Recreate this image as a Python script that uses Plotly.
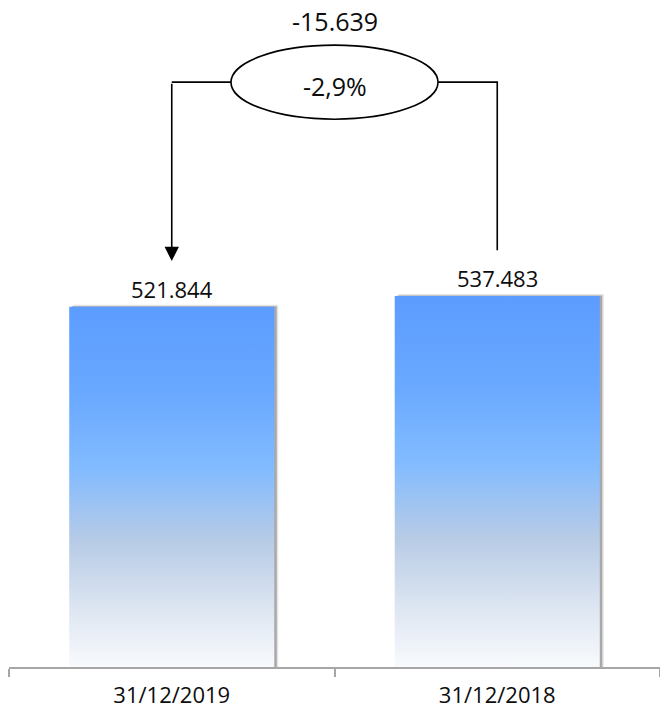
import plotly.graph_objects as go

# ---- data -------------------------------------------------------------
categories = ["31/12/2019", "31/12/2018"]
values = [521844, 537483]

delta = values[0] - values[1]
pct = delta / values[1] * 100


def fmt_int(v):
    # dot as thousands separator
    return f"{v:,}".replace(",", ".")


def fmt_pct(p):
    return f"{p:.1f}".replace(".", ",") + "%"


# ---- geometry helpers -------------------------------------------------
Y_MAX = 966000          # y-axis upper bound
BAR_W = 0.63            # bar width in category units
PX_X = 2.0 / 651        # category units per pixel (x)
PX_Y = Y_MAX / 667      # value units per pixel (y)

FONT = "Open Sans"
TXT = "#0d0d0d"

grad_scale = [
    [0.00, "#f8fafd"],
    [0.15, "#dfe7f2"],
    [0.35, "#b7cbe6"],
    [0.55, "#82bbff"],
    [0.75, "#6aa9ff"],
    [1.00, "#5c9cff"],
]

fig = go.Figure()

for i, v in enumerate(values):
    x0, x1 = i - BAR_W / 2, i + BAR_W / 2
    # soft drop shadow on the right / top edge
    for dx, dy, col in [(4, 2, "#e4e4e4"), (2.5, 0.5, "#a9a9a9")]:
        sx0, sx1 = x0 + dx * PX_X, x1 + dx * PX_X
        top = v + dy * PX_Y
        fig.add_trace(go.Scatter(
            x=[sx0, sx1, sx1, sx0, sx0], y=[0, 0, top, top, 0],
            mode="lines", fill="toself", fillcolor=col,
            line=dict(width=0), hoverinfo="skip", showlegend=False,
        ))
    # gradient bar body
    fig.add_trace(go.Scatter(
        x=[x0, x1, x1, x0, x0], y=[0, 0, v, v, 0],
        mode="lines", fill="toself",
        fillgradient=dict(type="vertical", start=0, stop=v, colorscale=grad_scale),
        line=dict(width=0), hoverinfo="skip", showlegend=False,
    ))
    # value label above the bar
    fig.add_annotation(
        x=i, y=v, text=fmt_int(v), showarrow=False,
        yanchor="middle", yshift=18,
        font=dict(family=FONT, size=22, color=TXT),
    )

# ---- variation bracket ------------------------------------------------
bracket_y = 847000
ell_rx = 0.318
ell_ry = 53600
gap = 66000
tip_left = values[0] + gap
end_right = values[1] + gap

line_style = dict(color="black", width=1.6)

# ellipse with the percentage change
fig.add_shape(type="circle", xref="x", yref="y",
              x0=0.5 - ell_rx, x1=0.5 + ell_rx,
              y0=bracket_y - ell_ry, y1=bracket_y + ell_ry,
              line=line_style, fillcolor="white", layer="above")

# connector to the right bar
fig.add_shape(type="path", xref="x", yref="y",
              path=f"M {0.5 + ell_rx},{bracket_y} L 1,{bracket_y} L 1,{end_right}",
              line=line_style, layer="above")
# connector to the left bar (horizontal part)
fig.add_shape(type="line", xref="x", yref="y",
              x0=0.5 - ell_rx, x1=0, y0=bracket_y, y1=bracket_y,
              line=line_style, layer="above")
# arrow pointing down to the left bar
fig.add_annotation(x=0, y=tip_left, ax=0, ay=bracket_y,
                   xref="x", yref="y", axref="x", ayref="y",
                   text="", showarrow=True, arrowhead=2, arrowsize=1.8,
                   arrowwidth=1.6, arrowcolor="black", standoff=0)

fig.add_annotation(x=0.5, y=bracket_y, text=fmt_pct(pct), showarrow=False,
                   yanchor="middle", yshift=-4,
                   font=dict(family=FONT, size=25, color=TXT))
fig.add_annotation(x=0.5, y=935000, text=fmt_int(delta), showarrow=False,
                   yanchor="middle",
                   font=dict(family=FONT, size=25, color=TXT))

# ---- axes / layout ----------------------------------------------------
fig.update_xaxes(
    range=[-0.5, 1.5], tickvals=[0, 1], ticktext=categories,
    ticks="", showgrid=False, zeroline=False, automargin=False,
    showline=True, linecolor="#a6a6a6", linewidth=1.5,
    tickfont=dict(family=FONT, size=22, color=TXT),
    ticklabelstandoff=8,
    minor=dict(tickvals=[-0.5, 0.5, 1.5], ticks="outside", ticklen=8,
               tickwidth=1.5, tickcolor="#a6a6a6", showgrid=False),
)
fig.update_yaxes(range=[0, Y_MAX], visible=False, automargin=False)

fig.update_layout(
    width=660, height=708,
    margin=dict(l=9, r=0, t=0, b=41),
    plot_bgcolor="white", paper_bgcolor="white",
    showlegend=False,
)

fig.write_html("out.html")
